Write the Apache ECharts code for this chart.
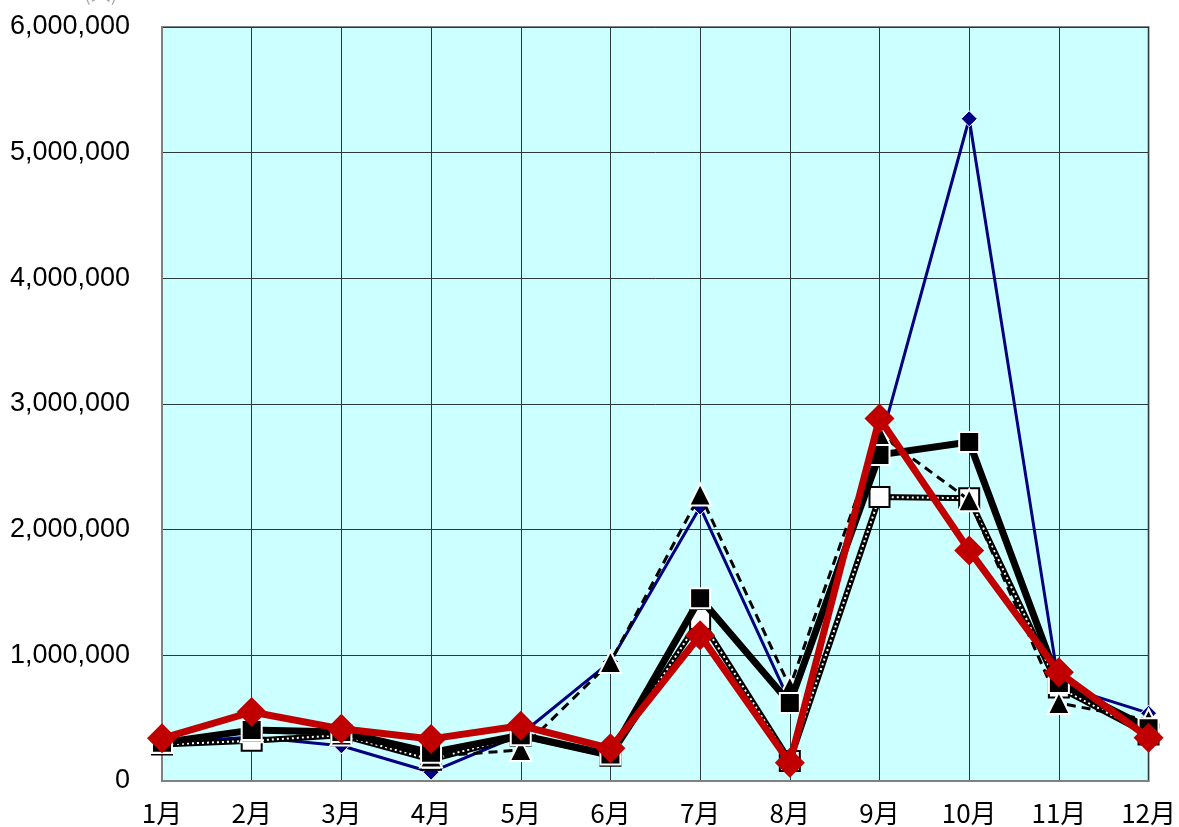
<!DOCTYPE html>
<html><head><meta charset="utf-8">
<script src="https://cdn.jsdelivr.net/npm/echarts@6/dist/echarts.min.js"></script>
<style>html,body{margin:0;padding:0;background:#fff}#c{width:1179px;height:827px}</style>
</head><body><div id="c"></div>
<script>
const categories = ['1月','2月','3月','4月','5月','6月','7月','8月','9月','10月','11月','12月'];
const yTicks = [0,1000000,2000000,3000000,4000000,5000000,6000000];
const seriesBlue   = [300000, 350000, 280000, 70000, 370000, 950000, 2180000, 630000, 2670000, 5270000, 765000, 540000];
const seriesDotted = [290000, 320000, 365000, 170000, 360000, 200000, 1290000, 160000, 2260000, 2250000, 745000, 370000];
const seriesDashed = [310000, 395000, 370000, 195000, 247000, 947000, 2280000, 748000, 2760000, 2235000, 620000, 485000];
const seriesSquare = [305000, 405000, 390000, 225000, 365000, 210000, 1455000, 620000, 2595000, 2697000, 780000, 420000];
const seriesRed    = [340000, 549000, 415000, 335000, 440000, 260000, 1160000, 145000, 2885000, 1835000, 865000, 345000];

const chart = echarts.init(document.getElementById('c'), null, {renderer:'canvas'});
const wb = {borderColor:'#fff', borderWidth:2};
chart.setOption({
  animation:false,
  graphic:[{type:'text', left:84, top:-17, style:{text:'(人)', font:'20px "Noto Sans CJK JP"', fill:'#aaa'}}],
  grid:{left:162, right:26, top:27, bottom:46, show:true, backgroundColor:'#CCFFFF', borderColor:'#808080', borderWidth:2},
  xAxis:{type:'category', data:categories, boundaryGap:false,
    axisLine:{lineStyle:{color:'#808080', width:2}}, axisTick:{show:false},
    splitLine:{show:true, lineStyle:{color:'#2a3a3a', width:1}},
    axisLabel:{color:'#000', fontSize:26, fontFamily:'"Noto Sans CJK JP"', margin:19}},
  yAxis:{type:'value', min:0, max:6000000, interval:1000000,
    axisLine:{show:true, lineStyle:{color:'#808080', width:2}}, axisTick:{show:false},
    splitLine:{show:true, lineStyle:{color:'#2a3a3a', width:1}},
    axisLabel:{color:'#000', fontSize:27, fontFamily:'"Liberation Sans", Arial', margin:32,
      formatter:v=>yTicks.includes(v)?v.toLocaleString('en-US'):''}},
  series:[
    {name:'A', type:'line', data:seriesBlue, symbol:'diamond', symbolSize:16, z:2,
      lineStyle:{color:'#000080', width:3}, itemStyle:{color:'#000080', borderColor:'#fff', borderWidth:1}},
    {name:'B', type:'line', data:seriesDotted, symbol:'rect', symbolSize:20, z:3,
      lineStyle:{color:'#000', width:6}, itemStyle:{color:'#fff', borderColor:'#000', borderWidth:2}},
    {name:'B2', type:'line', data:seriesDotted, symbol:'none', z:3,
      lineStyle:{color:'#fff', width:2, type:[2,3]}},
    {name:'C', type:'line', data:seriesDashed, symbol:'triangle', symbolSize:22, z:4,
      lineStyle:{color:'#000', width:3, type:[9,6]}, itemStyle:{color:'#000', ...wb}},
    {name:'D', type:'line', data:seriesSquare, symbol:'rect', symbolSize:20, z:5,
      lineStyle:{color:'#000', width:7}, itemStyle:{color:'#000', ...wb}},
    {name:'E', type:'line', data:seriesRed, symbol:'diamond', symbolSize:30, z:6,
      lineStyle:{color:'#C00000', width:7}, itemStyle:{color:'#C00000', borderColor:'#C00000', borderWidth:0}}
  ]
});
</script></body></html>
